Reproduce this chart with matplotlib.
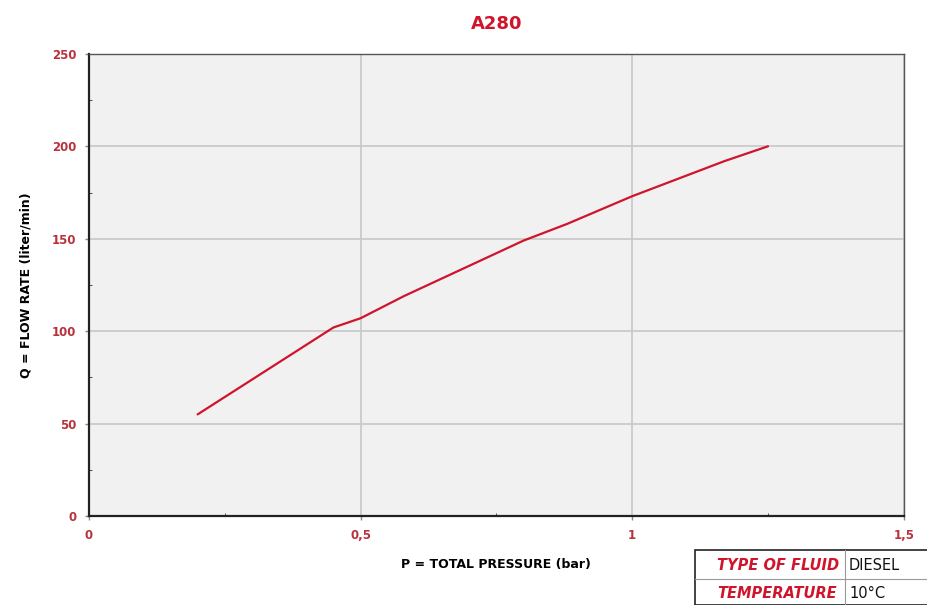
import numpy as np
import matplotlib.pyplot as plt
from matplotlib.patches import Rectangle
from matplotlib.ticker import MultipleLocator

# data
pressure = [0.2, 0.45, 0.5, 0.58, 0.8, 0.88, 1.0, 1.17, 1.25]
flow = [55, 102, 107, 119, 149, 158, 173, 192, 200]

x_ticks = [0, 0.5, 1, 1.5]
x_tick_labels = ["0", "0,5", "1", "1,5"]
y_ticks = [0, 50, 100, 150, 200, 250]

red = "#d0142c"
tick_red = "#b8323c"

fig = plt.figure(figsize=(9.27, 6.05), dpi=100)
ax = fig.add_axes([0.096, 0.147, 0.879, 0.764])
ax.set_facecolor("#f1f1f1")

ax.plot(pressure, flow, color=red, lw=1.6, solid_capstyle="round")

ax.set_xlim(0, 1.5)
ax.set_ylim(0, 250)
ax.set_xticks(x_ticks)
ax.set_xticklabels(x_tick_labels)
ax.set_yticks(y_ticks)
ax.xaxis.set_minor_locator(MultipleLocator(0.25))
ax.yaxis.set_minor_locator(MultipleLocator(25))
ax.grid(True, which="major", color="#c8c8c8", lw=1.2)
ax.set_axisbelow(True)

ax.tick_params(which="major", length=3, width=1, color="#888888",
               labelsize=8.5, labelcolor=tick_red, pad=6)
ax.tick_params(which="minor", length=2, direction="in", color="#333333")
for lbl in ax.get_xticklabels() + ax.get_yticklabels():
    lbl.set_fontweight("bold")

for s in ax.spines.values():
    s.set_color("#555555")
    s.set_linewidth(1)
ax.spines["left"].set_color("#222222")
ax.spines["bottom"].set_color("#222222")
ax.spines["left"].set_linewidth(1.6)
ax.spines["bottom"].set_linewidth(1.6)

ax.set_title("A280", color=red, fontsize=13, fontweight="bold", pad=18)
ax.set_xlabel("P = TOTAL PRESSURE (bar)", fontsize=9, fontweight="bold", labelpad=12)
ax.set_ylabel("Q = FLOW RATE (liter/min)", fontsize=9, fontweight="bold", labelpad=14)

# fluid info box bottom right
W, H = 927, 605
def fx(px):
    return px / W
def fy(py):
    return 1 - py / H

box = Rectangle((fx(695), 0), fx(940) - fx(695), fy(550), transform=fig.transFigure,
                fill=False, edgecolor="#222222", lw=1.2, clip_on=False)
fig.patches.append(box)
fig.add_artist(plt.Line2D([fx(695), 1], [fy(579), fy(579)], transform=fig.transFigure,
                          color="#999999", lw=0.8))
fig.add_artist(plt.Line2D([fx(845), fx(845)], [0, fy(550)], transform=fig.transFigure,
                          color="#999999", lw=0.8))

fig.text(fx(717), fy(565), "TYPE OF FLUID", color=red, fontsize=10.5,
         fontweight="bold", style="italic", va="center")
fig.text(fx(849), fy(565), "DIESEL", color="#111111", fontsize=10.5, va="center")
fig.text(fx(717), fy(594), "TEMPERATURE", color=red, fontsize=10.5,
         fontweight="bold", style="italic", va="center")
fig.text(fx(849), fy(594), "10°C", color="#111111", fontsize=10.5, va="center")

fig.savefig("out.png", dpi=100)
